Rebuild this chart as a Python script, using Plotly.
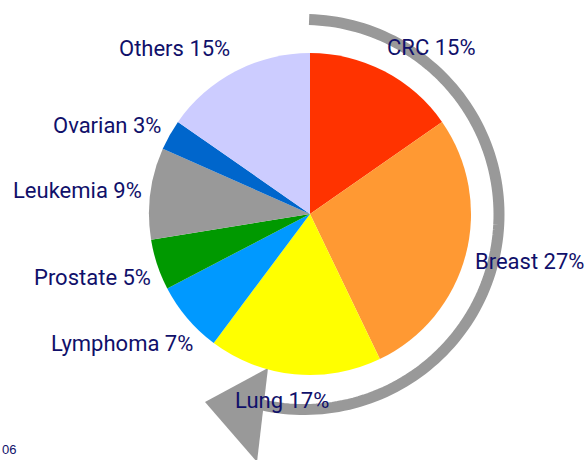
import math
import plotly.graph_objects as go

W, H = 587, 460

labels = ["CRC", "Breast", "Lung", "Lymphoma", "Prostate", "Leukemia", "Ovarian", "Others"]
values = [15, 27, 17, 7, 5, 9, 3, 15]
colors = ["#FF3300", "#FF9933", "#FFFF00", "#0099FF", "#009900", "#999999", "#0066CC", "#CCCCFF"]
label_pos = [(431, 48), (529, 261), (282, 400), (122, 343), (92, 277), (77, 191), (107, 125), (174, 49)]

TEXT = "#10106A"
GRAY = "#999999"

def px(x):
    return x / W

def py(y):
    return 1 - y / H

# pie geometry (pixels)
cx, cy, r = 310, 214, 161

fig = go.Figure(go.Pie(
    labels=labels, values=values, sort=False, direction="clockwise", rotation=0,
    marker=dict(colors=colors, line=dict(width=0)),
    textinfo="none", hoverinfo="label+value",
    domain=dict(x=[px(cx - r), px(cx + r)], y=[py(cy + r), py(cy - r)]),
))

# curved arrow around the pie
acx, acy, ar = 304, 214.5, 195
pts = []
for i in range(0, 121):
    t = math.radians(1.5 + (194 - 1.5) * i / 120)
    x = acx + ar * math.sin(t)
    y = acy - ar * math.cos(t)
    pts.append((px(x), py(y)))
path = "M " + " L ".join(f"{x:.5f},{y:.5f}" for x, y in pts)
shapes = [
    dict(type="path", xref="paper", yref="paper", path=path,
         line=dict(color=GRAY, width=11), fillcolor="rgba(0,0,0,0)", layer="below"),
]
tri = [(205, 402), (268, 368), (257, 462)]
shapes.append(dict(type="path", xref="paper", yref="paper",
                   path="M " + " L ".join(f"{px(x):.5f},{py(y):.5f}" for x, y in tri) + " Z",
                   line=dict(width=0), fillcolor=GRAY, layer="below"))

annotations = []
for lab, v, (x, y) in zip(labels, values, label_pos):
    annotations.append(dict(text=f"{lab} {v}%", x=px(x), y=py(y), xref="paper", yref="paper",
                            xanchor="center", yanchor="middle", showarrow=False,
                            font=dict(family="Roboto", size=22, color=TEXT)))
annotations.append(dict(text="06", x=0, y=py(449), xref="paper", yref="paper",
                        xanchor="left", yanchor="middle", showarrow=False,
                        font=dict(family="Liberation Sans", size=13, color=TEXT)))

fig.update_layout(
    width=W, height=H, margin=dict(l=0, r=0, t=0, b=0),
    paper_bgcolor="white", plot_bgcolor="white", showlegend=False,
    shapes=shapes, annotations=annotations,
)
fig.write_html("out.html", config={"displayModeBar": False},
               post_script="document.body.style.margin='0';document.body.style.overflow='hidden';")
